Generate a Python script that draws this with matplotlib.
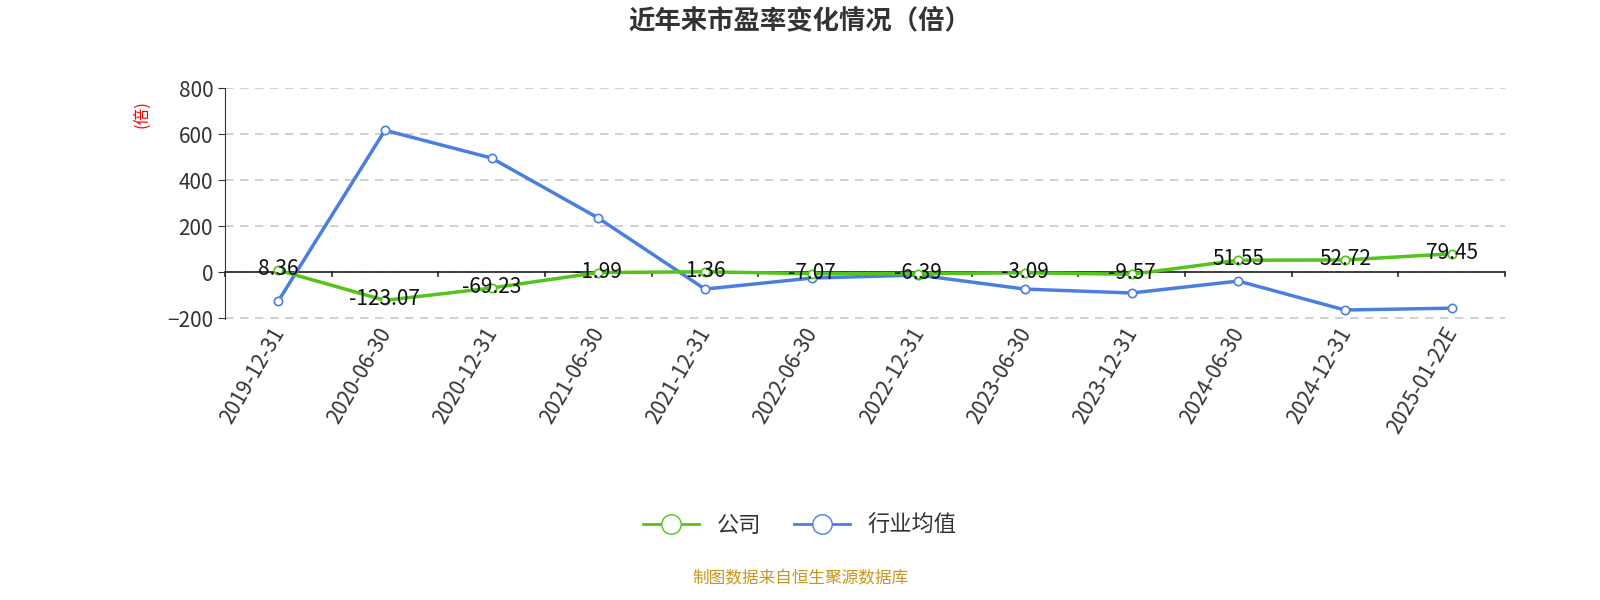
import matplotlib.pyplot as plt
from matplotlib.lines import Line2D

plt.rcParams['font.family'] = ['Noto Sans CJK SC', 'DejaVu Sans']

dates = ['2019-12-31', '2020-06-30', '2020-12-31', '2021-06-30', '2021-12-31', '2022-06-30',
         '2022-12-31', '2023-06-30', '2023-12-31', '2024-06-30', '2024-12-31', '2025-01-22E']
company = [8.36, -123.07, -69.23, -1.99, 1.36, -7.07, -6.39, -3.09, -9.57, 51.55, 52.72, 79.45]
industry = [-126, 617, 496, 235, -74, -26, -13, -74, -91, -39, -165, -157]

green = '#52c41a'
blue = '#4a7fe0'

fig = plt.figure(figsize=(16, 6), dpi=100)
ax = fig.add_axes([0.1406, 0.468, 0.80, 0.385])
x = list(range(len(dates)))

ax.plot(x, industry, color=blue, lw=2.5, marker='o', ms=6, mfc='white', mec=blue, mew=1.2, zorder=3)
ax.plot(x, company, color=green, lw=2.5, marker='o', ms=6, mfc='white', mec=green, mew=1.2, zorder=4)
for i, v in enumerate(company):
    ax.text(i, v + 4, f'{v:.2f}', ha='center', va='center', fontsize=15, color='#111', zorder=5)

ax.set_xlim(-0.5, len(dates) - 0.5)
ax.set_ylim(-205, 800)
ax.set_yticks([-200, 0, 200, 400, 600, 800])
ax.tick_params(axis='y', labelsize=15, colors='#333', length=5)
ax.grid(axis='y', ls=(0, (5, 4)), color='#c8c8c8', lw=1.2)
ax.set_axisbelow(True)
for s in ['top', 'right', 'bottom']:
    ax.spines[s].set_visible(False)
ax.spines['left'].set_color('#333')
ax.axhline(0, color='#222', lw=1.2, zorder=2)
ax.set_xticks([])
for i in range(len(dates) + 1):
    ax.plot([i - 0.5, i - 0.5], [0, -18], color='#222', lw=1.2, clip_on=False)
for i, d in enumerate(dates):
    ax.text(i + 0.1, -225, d, rotation=60, ha='right', va='top', fontsize=15, color='#333')

ax.text(-0.065, 0.95, '(倍)', transform=ax.transAxes, rotation=90, color='red',
        fontsize=12, ha='center', va='top')

fig.text(0.5, 0.965, '近年来市盈率变化情况（倍）', ha='center', va='center', fontsize=19,
         fontweight='bold', color='#333')

handles = [Line2D([], [], color=green, lw=2, marker='o', ms=14, mfc='white', mec=green),
           Line2D([], [], color=blue, lw=2, marker='o', ms=14, mfc='white', mec=blue)]
fig.legend(handles, ['公司', '行业均值'], loc='center', bbox_to_anchor=(0.5, 0.125), ncol=2,
           frameon=False, fontsize=16, handlelength=2.5, columnspacing=1.5, labelcolor='#333')

fig.text(0.5, 0.035, '制图数据来自恒生聚源数据库', ha='center', va='center', fontsize=12, color='#c8961e')

fig.savefig('out.png')
